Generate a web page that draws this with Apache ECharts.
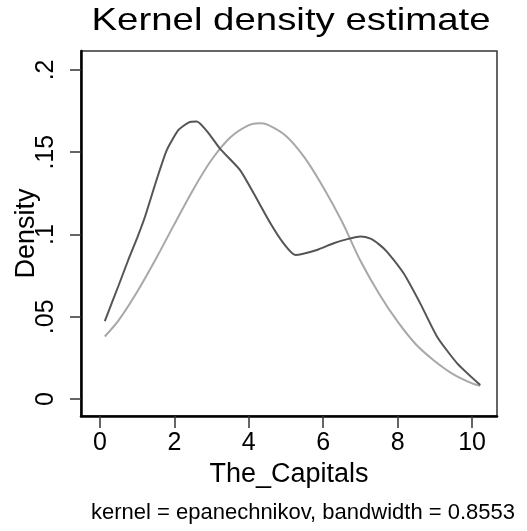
<!DOCTYPE html>
<html>
<head>
<meta charset="utf-8">
<script src="https://cdn.jsdelivr.net/npm/echarts@6/dist/echarts.min.js"></script>
<style>html,body{margin:0;padding:0;background:#fff}#c{width:527px;height:531px}</style>
</head>
<body>
<div id="c"></div>
<script>
var kdeX = [0.13, 0.5, 0.76, 1.0, 1.21, 1.52, 1.79, 2.11, 2.38, 2.6, 2.92, 3.23, 3.77, 4.13, 4.58, 4.93, 5.25, 5.83, 6.28, 6.7, 7.0, 7.27, 7.5, 7.71, 8.16, 8.61, 9.06, 9.6, 10.22];
var kdeY = [0.0474, 0.069, 0.0845, 0.098, 0.1108, 0.1331, 0.151, 0.1635, 0.168, 0.1686, 0.1615, 0.152, 0.139, 0.125, 0.1068, 0.0947, 0.0875, 0.0906, 0.0947, 0.0975, 0.0988, 0.0975, 0.094, 0.0896, 0.0764, 0.058, 0.0379, 0.0217, 0.0085];
var normX = [0.13, 0.5, 1, 1.5, 2, 2.5, 3, 3.5, 4, 4.27, 4.5, 5, 5.5, 6, 6.5, 7, 7.5, 8, 8.5, 9, 9.5, 10, 10.22];
var normY = [0.038, 0.0478, 0.0652, 0.0851, 0.1063, 0.1271, 0.1454, 0.159, 0.1665, 0.1676, 0.1668, 0.1599, 0.1467, 0.1287, 0.108, 0.084, 0.064, 0.047, 0.033, 0.023, 0.015, 0.0095, 0.008];
var xTicks = [0, 2, 4, 6, 8, 10];
var yTicks = [0, 0.05, 0.1, 0.15, 0.2];
var yTickLabels = ['0', '.05', '.1', '.15', '.2'];
var titleText = 'Kernel density estimate';
var xName = 'The_Capitals';
var yName = 'Density';
var noteText = 'kernel = epanechnikov, bandwidth = 0.8553';

function pairs(xs, ys) { return xs.map(function (x, i) { return [x, ys[i]]; }); }
var FONT = '"Liberation Sans", Arial, Helvetica, sans-serif';

var chart = echarts.init(document.getElementById('c'), null, { renderer: 'canvas' });
chart.setOption({
  animation: false,
  backgroundColor: '#fff',
  grid: { left: 81, top: 51, right: 30, bottom: 115, show: true, borderColor: '#333', borderWidth: 1.5, outerBoundsMode: 'none', containLabel: false },
  graphic: [
    { type: 'text', x: 291, y: 21, scaleX: 1.2, style: { text: titleText, font: '32px ' + FONT, fill: '#000', align: 'center', verticalAlign: 'middle' } },
    { type: 'text', x: 515, y: 513, style: { text: noteText, font: '22px ' + FONT, fill: '#000', align: 'right', verticalAlign: 'middle' } }
  ],
  xAxis: {
    type: 'value', min: -0.51, max: 10.67,
    name: xName, nameLocation: 'middle', nameGap: 45, nameMoveOverlap: false,
    nameTextStyle: { fontFamily: FONT, fontSize: 27, color: '#000' },
    axisLine: { show: true, onZero: false, lineStyle: { color: '#000', width: 2.5 } },
    axisTick: { show: true, customValues: xTicks, length: 12, lineStyle: { color: '#333', width: 1.5 } },
    axisLabel: { show: true, customValues: xTicks, margin: 15, fontFamily: FONT, fontSize: 25, color: '#000' },
    splitLine: { show: false }
  },
  yAxis: {
    type: 'value', min: -0.0103, max: 0.2115,
    name: yName, nameLocation: 'middle', nameGap: 41, nameRotate: 90, nameMoveOverlap: false,
    nameTextStyle: { fontFamily: FONT, fontSize: 27, color: '#000' },
    axisLine: { show: true, onZero: false, lineStyle: { color: '#000', width: 2.5 } },
    axisTick: { show: true, customValues: yTicks, length: 11, lineStyle: { color: '#333', width: 1.5 } },
    axisLabel: {
      show: true, customValues: yTicks, rotate: 90, margin: 22, fontFamily: FONT, fontSize: 25, color: '#000',
      formatter: function (v) { var i = yTicks.findIndex(function (t) { return Math.abs(t - v) < 1e-9; }); return i >= 0 ? yTickLabels[i] : ''; }
    },
    splitLine: { show: false }
  },
  series: [
    { type: 'line', data: pairs(normX, normY), smooth: 0.3, showSymbol: false, lineStyle: { color: '#a8a8a8', width: 2 }, z: 2 },
    { type: 'line', data: pairs(kdeX, kdeY), smooth: 0.2, showSymbol: false, lineStyle: { color: '#555555', width: 2 }, z: 3 }
  ]
});
</script>
</body>
</html>
